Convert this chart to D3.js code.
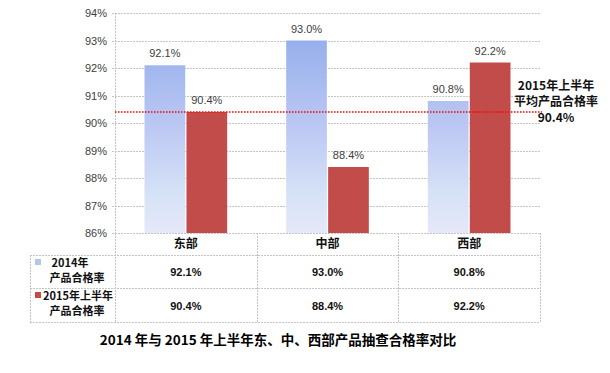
<!DOCTYPE html>
<html>
<head>
<meta charset="utf-8">
<script src="https://d3js.org/d3.v7.min.js"></script>
<style>
  body, html { margin: 0; padding: 0; background: #fff; }
  svg { display: block; }
  text { font-family: "Liberation Sans", Arial, "Noto Sans CJK SC", sans-serif; }
  .cjk { font-family: "Noto Sans CJK SC", "Liberation Sans", sans-serif; }
  .grid line { stroke: #c4c4c4; stroke-dasharray: 2,1; }
</style>
</head>
<body>
<svg width="610" height="373"></svg>
<script>
// chart data
const regions = ["东部", "中部", "西部"];
const seriesNames = ["2014年\n产品合格率", "2015年上半年\n产品合格率"];
const values2014 = [92.1, 93.0, 90.8];
const values2015 = [90.4, 88.4, 92.2];
const avg2015 = 90.4;
const yTicks = [86, 87, 88, 89, 90, 91, 92, 93, 94];
const avgLabel = ["2015年上半年", "平均产品合格率", "90.4%"];
const title = "2014 年与 2015 年上半年东、中、西部产品抽查合格率对比";

const svg = d3.select("svg");
const pLeft = 115, pRight = 540, pTop = 13, pBottom = 233;

const x0 = d3.scaleBand().domain(regions).range([pLeft, pRight]);
const x1 = d3.scaleBand().domain([0, 1])
    .range([29.5, x0.bandwidth() - 29.5]).paddingInner(0.03);
const y = d3.scaleLinear().domain([86, 94]).range([pBottom, pTop]);

// gradients
const defs = svg.append("defs");
const gb = defs.append("linearGradient").attr("id", "gBlue")
    .attr("gradientUnits", "userSpaceOnUse")
    .attr("x1", 0).attr("x2", 0).attr("y1", y(93)).attr("y2", pBottom);
gb.append("stop").attr("offset", 0).attr("stop-color", "#97b0ec");
gb.append("stop").attr("offset", 0.45).attr("stop-color", "#bcc8f3");
gb.append("stop").attr("offset", 0.8).attr("stop-color", "#d6e2f6");
gb.append("stop").attr("offset", 1).attr("stop-color", "#e6e8f9");

// gridlines
const grid = svg.append("g").attr("class", "grid");
grid.selectAll("line").data(yTicks).join("line")
    .attr("x1", pLeft - 3).attr("x2", pRight)
    .attr("y1", d => Math.round(y(d)) + 0.5).attr("y2", d => Math.round(y(d)) + 0.5);
grid.append("line").attr("x1", pLeft + 0.5).attr("x2", pLeft + 0.5).attr("y1", pTop).attr("y2", pBottom);

// y labels
const yAxis = d3.axisLeft(y).tickValues(yTicks).tickFormat(d => d + "%").tickSize(0).tickPadding(8);
const ya = svg.append("g").attr("transform", `translate(${pLeft},0)`).call(yAxis);
ya.select(".domain").remove();
ya.selectAll("text").attr("font-size", 11).attr("fill", "#404040")
    .style("font-family", "'Liberation Sans', Arial, sans-serif");

// bars
const data = regions.map((r, i) => ({ r, vals: [values2014[i], values2015[i]] }));
const groups = svg.append("g").selectAll("g").data(data).join("g")
    .attr("transform", d => `translate(${x0(d.r)},0)`);
groups.selectAll("rect").data(d => d.vals).join("rect")
    .attr("x", (d, i) => x1(i))
    .attr("width", x1.bandwidth())
    .attr("y", d => y(d))
    .attr("height", d => pBottom - y(d))
    .attr("fill", (d, i) => i === 0 ? "url(#gBlue)" : "#c24c4a");
groups.selectAll("text").data(d => d.vals).join("text")
    .attr("x", (d, i) => x1(i) + x1.bandwidth() / 2)
    .attr("y", d => y(d) - 8)
    .attr("text-anchor", "middle")
    .attr("font-size", 11).attr("fill", "#404040")
    .text(d => d.toFixed(1) + "%");

// average line
svg.append("line")
    .attr("x1", pLeft).attr("x2", pRight + 2)
    .attr("y1", y(avg2015)).attr("y2", y(avg2015))
    .attr("stroke", "#ff0000").attr("stroke-width", 1.6).attr("stroke-dasharray", "1.5,1.5");
svg.append("g").selectAll("text").data(avgLabel).join("text")
    .attr("class", "cjk")
    .attr("x", 556).attr("y", (d, i) => 90 + i * 16)
    .attr("text-anchor", "middle").attr("font-size", 12).attr("font-weight", "bold")
    .attr("fill", "#111")
    .text(d => d);

// data table
const rowY = [pBottom, 255, 288, 322];
const tLeft = 30;
const tbl = svg.append("g").attr("class", "grid");
tbl.append("line").attr("x1", pLeft).attr("x2", pRight).attr("y1", rowY[0] + 0.5).attr("y2", rowY[0] + 0.5);
rowY.slice(1).forEach(v => {
  tbl.append("line").attr("x1", tLeft).attr("x2", pRight).attr("y1", v + 0.5).attr("y2", v + 0.5);
});
[pLeft, ...regions.map(r => x0(r) + x0.bandwidth())].forEach(v => {
  tbl.append("line").attr("x1", Math.round(v) + 0.5).attr("x2", Math.round(v) + 0.5)
     .attr("y1", rowY[0]).attr("y2", rowY[3]);
});
tbl.append("line").attr("x1", tLeft + 0.5).attr("x2", tLeft + 0.5).attr("y1", rowY[1]).attr("y2", rowY[3]);

// header
svg.append("g").selectAll("text").data(regions).join("text")
    .attr("class", "cjk")
    .attr("x", d => x0(d) + x0.bandwidth() / 2).attr("y", 248)
    .attr("text-anchor", "middle").attr("font-size", 12).attr("font-weight", "bold")
    .attr("fill", "#111").text(d => d);

// values
[values2014, values2015].forEach((vals, k) => {
  svg.append("g").selectAll("text").data(vals).join("text")
    .attr("x", (d, i) => x0(regions[i]) + x0.bandwidth() / 2)
    .attr("y", k === 0 ? 276 : 310)
    .attr("text-anchor", "middle").attr("font-size", 11).attr("font-weight", "bold")
    .attr("fill", "#111").text(d => d.toFixed(1) + "%");
});

// row headers with legend keys
seriesNames.forEach((s, k) => {
  const lines = s.split("\n");
  const yb = k === 0 ? 267 : 300;
  svg.append("rect").attr("x", 35).attr("y", yb - 8).attr("width", 6).attr("height", 6)
     .attr("fill", k === 0 ? "#b4c6f0" : "#c24c4a");
  lines.forEach((ln, j) => {
    const first2015 = j === 0 && k === 1;
    svg.append("text").attr("class", "cjk")
      .attr("x", first2015 ? 43 : (j === 0 ? 70 : 77))
      .attr("y", yb + j * 15)
      .attr("text-anchor", first2015 ? "start" : "middle")
      .attr("font-size", 11).attr("font-weight", "bold").attr("fill", "#111")
      .text(ln);
  });
});

// title
svg.append("text").attr("class", "cjk")
    .attr("x", 278).attr("y", 345)
    .attr("text-anchor", "middle").attr("font-size", 13.5).attr("font-weight", "bold")
    .attr("fill", "#000").text(title);
</script>
</body>
</html>
